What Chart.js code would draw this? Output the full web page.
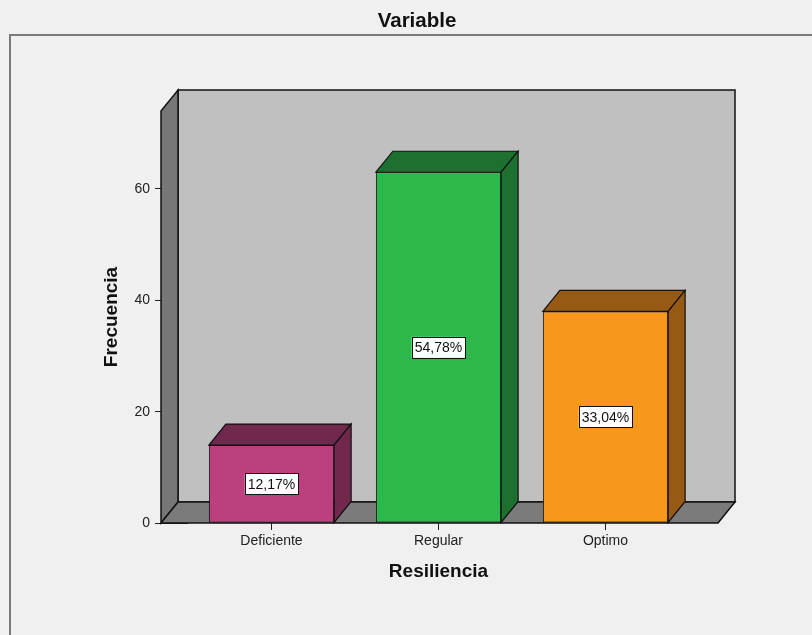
<!DOCTYPE html>
<html>
<head>
<meta charset="utf-8">
<script src="https://cdn.jsdelivr.net/npm/chart.js@4/dist/chart.umd.min.js"></script>
<style>
  html, body { margin: 0; padding: 0; background: #f0f0f0; }
  canvas { display: block; }
</style>
</head>
<body>
<canvas id="chart" width="812" height="635"></canvas>
<script>
// Frequency of each resilience level
const categories = ['Deficiente', 'Regular', 'Optimo'];
const frecuencias = [14, 63, 38];
const yTicks = [0, 20, 40, 60];
const yMax = 74;

// Front faces and the darker top/side faces of each bar
const faceColors = ['#bc3f7e', '#2eb84b', '#f7981d'];
const shadeColors = ['#72284d', '#1e7030', '#975a14'];

const FONT = "'Liberation Sans', Arial, Helvetica, sans-serif";
const DX = 17, DY = -21;        // depth of the 3D box
const PAD_L = 27, PAD_R = 29;   // floor overhang beyond the category band

const total = frecuencias.reduce((a, b) => a + b, 0);
const pctLabel = v => (v / total * 100).toFixed(2).replace('.', ',') + '%';

function poly(ctx, pts, fill) {
  ctx.beginPath();
  ctx.moveTo(pts[0][0], pts[0][1]);
  for (let i = 1; i < pts.length; i++) ctx.lineTo(pts[i][0], pts[i][1]);
  ctx.closePath();
  ctx.fillStyle = fill;
  ctx.fill();
  ctx.stroke();
}

// Background, outer frame and the chart heading
const framePlugin = {
  id: 'frame',
  beforeDraw(chart) {
    const { ctx, width, height } = chart;
    ctx.save();
    ctx.fillStyle = '#f0f0f0';
    ctx.fillRect(0, 0, width, height);
    ctx.strokeStyle = '#7a7a7a';
    ctx.lineWidth = 2;
    ctx.beginPath();
    ctx.moveTo(10, height);
    ctx.lineTo(10, 35);
    ctx.lineTo(width, 35);
    ctx.stroke();
    ctx.fillStyle = '#111';
    ctx.font = 'bold 20.5px ' + FONT;
    ctx.textAlign = 'center';
    ctx.textBaseline = 'alphabetic';
    ctx.fillText('Variable', 417, 27);
    ctx.restore();
  }
};

// Back wall, side wall, floor, then the bar tops/sides and value boxes
const depthPlugin = {
  id: 'depth3d',
  beforeDatasetsDraw(chart) {
    const { ctx, chartArea: a, scales: { y } } = chart;
    const yb = y.getPixelForValue(0);
    const yt = y.getPixelForValue(y.max);
    const xl = a.left - PAD_L, xr = a.right + PAD_R;
    ctx.save();
    ctx.lineWidth = 1.5;
    ctx.strokeStyle = '#111';
    ctx.lineJoin = 'miter';
    poly(ctx, [[xl + DX, yt + DY], [xr + DX, yt + DY], [xr + DX, yb + DY], [xl + DX, yb + DY]], '#c0c0c0');
    poly(ctx, [[xl, yt], [xl + DX, yt + DY], [xl + DX, yb + DY], [xl, yb]], '#777777');
    poly(ctx, [[xl, yb], [xl + DX, yb + DY], [xr + DX, yb + DY], [xr, yb]], '#7b7b7b');
    ctx.restore();
  },
  afterDatasetsDraw(chart) {
    const { ctx } = chart;
    const meta = chart.getDatasetMeta(0);
    ctx.save();
    meta.data.forEach((bar, i) => {
      const { x, y, base, width } = bar.getProps(['x', 'y', 'base', 'width'], true);
      const x0 = x - width / 2, x1 = x + width / 2;
      ctx.lineWidth = 1.2;
      ctx.strokeStyle = '#111';
      poly(ctx, [[x0, y], [x0 + DX, y + DY], [x1 + DX, y + DY], [x1, y]], shadeColors[i]);
      poly(ctx, [[x1, y], [x1 + DX, y + DY], [x1 + DX, base + DY], [x1, base]], shadeColors[i]);

      const text = pctLabel(frecuencias[i]);
      ctx.font = '14px ' + FONT;
      const tw = ctx.measureText(text).width;
      const cy = (y + base) / 2;
      const bw = tw + 6, bh = 21;
      ctx.fillStyle = '#ffffff';
      ctx.fillRect(x - bw / 2, cy - bh / 2, bw, bh);
      ctx.lineWidth = 1;
      ctx.strokeStyle = '#111';
      ctx.strokeRect(Math.round(x - bw / 2) + 0.5, Math.round(cy - bh / 2) + 0.5, Math.round(bw), bh);
      ctx.fillStyle = '#111';
      ctx.textAlign = 'center';
      ctx.textBaseline = 'middle';
      ctx.fillText(text, x, cy + 1);
    });
    ctx.restore();
  }
};

new Chart(document.getElementById('chart'), {
  type: 'bar',
  data: {
    labels: categories,
    datasets: [{
      data: frecuencias,
      backgroundColor: faceColors,
      borderColor: '#111',
      borderWidth: 1,
      borderSkipped: false,
      categoryPercentage: 1,
      barPercentage: 0.75
    }]
  },
  options: {
    responsive: false,
    animation: false,
    devicePixelRatio: 1,
    events: [],
    layout: { padding: { top: 111, right: 123, bottom: 0, left: 0 } },
    plugins: {
      legend: { display: false },
      tooltip: { enabled: false },
      title: { display: false }
    },
    scales: {
      x: {
        type: 'category',
        offset: true,
        grid: { offset: false, drawOnChartArea: false, drawTicks: true, tickLength: 7, color: '#222', lineWidth: 1 },
        border: { display: false },
        ticks: { font: { family: FONT, size: 14 }, color: '#222', padding: 3 },
        title: {
          display: true, text: 'Resiliencia', color: '#111',
          font: { family: FONT, size: 19, weight: 'bold' },
          padding: { top: 0, bottom: 52 }
        },
        afterFit: s => { s.height = 112; }
      },
      y: {
        min: 0,
        max: yMax,
        afterBuildTicks: s => { s.ticks = yTicks.map(v => ({ value: v })); },
        grid: { drawOnChartArea: false, drawTicks: true, tickLength: 33, color: '#222', lineWidth: 1 },
        border: { display: false },
        ticks: { font: { family: FONT, size: 14 }, color: '#222', padding: 5 },
        title: {
          display: true, text: 'Frecuencia', color: '#111',
          font: { family: FONT, size: 19, weight: 'bold' },
          padding: { top: 100, bottom: 0 }
        },
        afterFit: s => { s.width = 188; }
      }
    }
  },
  plugins: [framePlugin, depthPlugin]
});
</script>
</body>
</html>
